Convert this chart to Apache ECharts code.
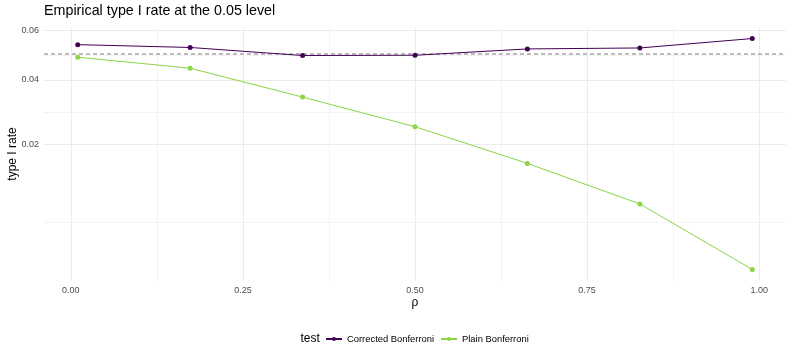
<!DOCTYPE html>
<html>
<head>
<meta charset="utf-8">
<script src="https://cdn.jsdelivr.net/npm/echarts@6/dist/echarts.min.js"></script>
<style>
html,body{margin:0;padding:0;background:#fff;}
#chart{width:792px;height:360px;}
</style>
</head>
<body>
<div id="chart"></div>
<script>
// ---- data ----
const rho = [0.01, 0.1733, 0.3367, 0.5, 0.6633, 0.8267, 0.99];
const correctedBonf = [0.0539, 0.0527, 0.0494, 0.0495, 0.0521, 0.0525, 0.0565];
const plainBonf = [0.0487, 0.0444, 0.0340, 0.0248, 0.0154, 0.0076, 0.00076];
const seriesNames = ['Corrected Bonferroni', 'Plain Bonferroni'];
const xTickValues = [0, 0.25, 0.5, 0.75, 1];
const yTickValues = [0.02, 0.04, 0.06];
const nominalLevel = 0.05;
const titleText = 'Empirical type I rate at the 0.05 level';
const xName = 'ρ';
const yName = 'type I rate';
const legendTitle = 'test';

// ---- sqrt transform (ggplot scale_y_sqrt) ----
const tr = v => Math.sqrt(v);
const inv = v => v * v;

const allY = correctedBonf.concat(plainBonf).map(tr);
const yLo = Math.min(...allY), yHi = Math.max(...allY);
const yPad = (yHi - yLo) * 0.05;
const xLo = Math.min(...rho), xHi = Math.max(...rho);
const xPad = (xHi - xLo) * 0.05;
const xMin = xLo - xPad, xMax = xHi + xPad;

const yMajor = yTickValues.map(tr);
const yBreaksAll = [0].concat(yTickValues).map(tr);
const yMinor = [];
for (let i = 0; i < yBreaksAll.length - 1; i++) yMinor.push((yBreaksAll[i] + yBreaksAll[i + 1]) / 2);
const xMinor = [];
for (let i = 0; i < xTickValues.length - 1; i++) xMinor.push((xTickValues[i] + xTickValues[i + 1]) / 2);

const FONT = 'Liberation Sans';
const colors = ['#440154', '#8BD646'];

const chart = echarts.init(document.getElementById('chart'), null, {renderer: 'canvas'});

const mkSeries = (name, vals, color) => ({
  name: name,
  type: 'line',
  xAxisIndex: 0,
  yAxisIndex: 0,
  data: rho.map((x, i) => [x, tr(vals[i])]),
  symbol: 'circle',
  symbolSize: 5,
  showSymbol: true,
  lineStyle: {color: color, width: 1},
  itemStyle: {color: color},
  emphasis: {disabled: true},
  z: 5
});

const refLine = {
  name: 'nominal',
  type: 'line',
  xAxisIndex: 0,
  yAxisIndex: 0,
  data: [[xMin, tr(nominalLevel)], [xMax, tr(nominalLevel)]],
  symbol: 'none',
  silent: true,
  lineStyle: {color: '#A6A6A6', type: [4, 3], width: 1.4},
  emphasis: {disabled: true},
  z: 3
};

chart.setOption({
  animation: false,
  backgroundColor: '#ffffff',
  textStyle: {fontFamily: FONT},
  title: {
    text: titleText,
    left: 44, top: 4, padding: 0,
    textStyle: {fontFamily: FONT, fontSize: 14.3, fontWeight: 'normal', color: '#000000'}
  },
  grid: {left: 44, right: 6, top: 27, bottom: 79, containLabel: false, outerBoundsMode: 'none'},
  legend: {
    data: seriesNames,
    left: 325, top: 334.5,
    orient: 'horizontal',
    itemWidth: 16, itemHeight: 5,
    itemGap: 6,
    padding: 0,
    textStyle: {fontFamily: FONT, fontSize: 9.4, color: '#000000'},
    selectedMode: false
  },
  graphic: [{
    type: 'text', left: 300.5, top: 333,
    style: {text: legendTitle, fontFamily: FONT, fontSize: 12, fill: '#000000'}
  }],
  xAxis: [{
    type: 'value',
    min: xMin, max: xMax,
    name: xName, nameLocation: 'middle', nameGap: 16, nameMoveOverlap: false,
    nameTextStyle: {fontFamily: FONT, fontSize: 12, color: '#000000'},
    axisLine: {show: false},
    axisTick: {show: false, customValues: xTickValues},
    axisLabel: {customValues: xTickValues, margin: 5, fontFamily: FONT, fontSize: 9, color: '#4D4D4D',
      formatter: v => v.toFixed(2)},
    splitLine: {show: true, lineStyle: {color: '#EBEBEB', width: 1}}
  }, {
    type: 'value',
    position: 'bottom',
    min: xMin, max: xMax,
    axisLine: {show: false},
    axisTick: {show: false, customValues: xMinor},
    axisLabel: {show: false, customValues: xMinor},
    splitLine: {show: true, lineStyle: {color: '#F3F3F3', width: 1}}
  }],
  yAxis: [{
    type: 'value',
    min: yLo - yPad, max: yHi + yPad,
    name: yName, nameLocation: 'middle', nameGap: 25, nameMoveOverlap: false,
    nameTextStyle: {fontFamily: FONT, fontSize: 12, color: '#000000'},
    axisLine: {show: false},
    axisTick: {show: false, customValues: yMajor},
    axisLabel: {customValues: yMajor, margin: 5, fontFamily: FONT, fontSize: 9, color: '#4D4D4D',
      formatter: v => inv(v).toFixed(2)},
    splitLine: {show: true, lineStyle: {color: '#EBEBEB', width: 1}}
  }, {
    type: 'value',
    position: 'left',
    min: yLo - yPad, max: yHi + yPad,
    axisLine: {show: false},
    axisTick: {show: false, customValues: yMinor},
    axisLabel: {show: false, customValues: yMinor},
    splitLine: {show: true, lineStyle: {color: '#F3F3F3', width: 1}}
  }],
  series: [refLine, mkSeries(seriesNames[0], correctedBonf, colors[0]), mkSeries(seriesNames[1], plainBonf, colors[1])]
});
</script>
</body>
</html>
